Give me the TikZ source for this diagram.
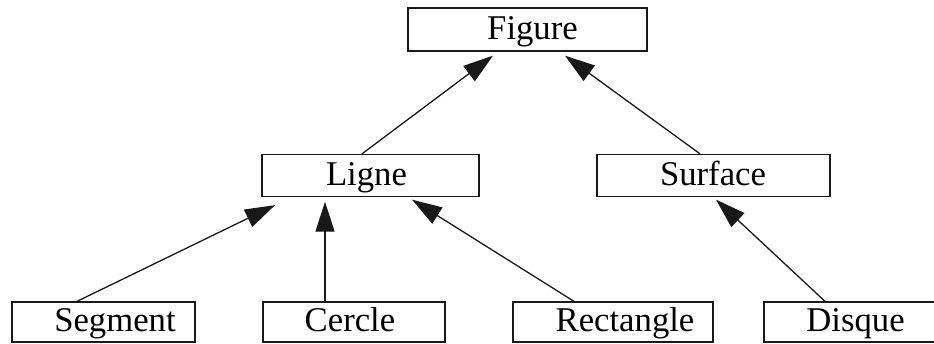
\documentclass[tikz,border=0pt]{standalone}
\usepackage{fontspec}
\setmainfont{Liberation Serif}
\usetikzlibrary{arrows.meta}
\begin{document}
\begin{tikzpicture}[x=1pt,y=-1pt,
  box/.style={draw=black!90,line width=1.3pt,rectangle,inner sep=0pt},
  lbl/.style={anchor=base,inner sep=0pt,font=\fontsize{34.7}{40}\selectfont},
  arr/.style={draw=black!90,line width=1.3pt,-{Triangle[length=30pt,width=19pt]}}]
\useasboundingbox (0,0) rectangle (934,343);
\clip (0,0) rectangle (934,343);
% boxes
\node[box,minimum width=239pt,minimum height=43pt] (fig) at (527.5,29.5) {};
\node[box,minimum width=217pt,minimum height=42pt] (lig) at (370.5,175.5) {};
\node[box,minimum width=233pt,minimum height=42pt] (sur) at (713.5,175.5) {};
\node[box,minimum width=183pt,minimum height=40pt] (seg) at (103.5,322) {};
\node[box,minimum width=182pt,minimum height=40pt] (cer) at (354,322) {};
\node[box,minimum width=200pt,minimum height=40pt] (rec) at (613,322) {};
\node[box,minimum width=181pt,minimum height=40pt] (dis) at (854.5,322) {};
% labels
\node[lbl] (tfig) at (532.5,39.5) {Figure};
\node[lbl] (tlig) at (366.5,185.5) {Ligne};
\node[lbl] (tsur) at (713,185.5) {Surface};
\node[lbl] (tseg) at (115,331) {Segment};
\node[lbl] (tcer) at (350,331) {Cercle};
\node[lbl] (trec) at (625,331) {Rectangle};
\node[lbl] (tdis) at (855.5,331) {Disque};
% connectors
\draw[arr] ([xshift=-8.5pt]lig.north) -- ([xshift=-34.5pt,yshift=-4pt]fig.south);
\draw[arr] ([xshift=-13.5pt]sur.north) -- ([xshift=37.5pt,yshift=-4pt]fig.south);
\draw[arr] ([xshift=-26.5pt]seg.north) -- ([xshift=-95.5pt,yshift=-8pt]lig.south);
\draw[arr] ([xshift=-29pt]cer.north) -- ([xshift=-45.5pt,yshift=-4.5pt]lig.south);
\draw[arr] ([xshift=-39pt]rec.north) -- ([xshift=41.5pt,yshift=-2.5pt]lig.south);
\draw[arr] ([xshift=-29.5pt]dis.north) -- ([xshift=2.5pt,yshift=-2.5pt]sur.south);
\end{tikzpicture}
\end{document}
